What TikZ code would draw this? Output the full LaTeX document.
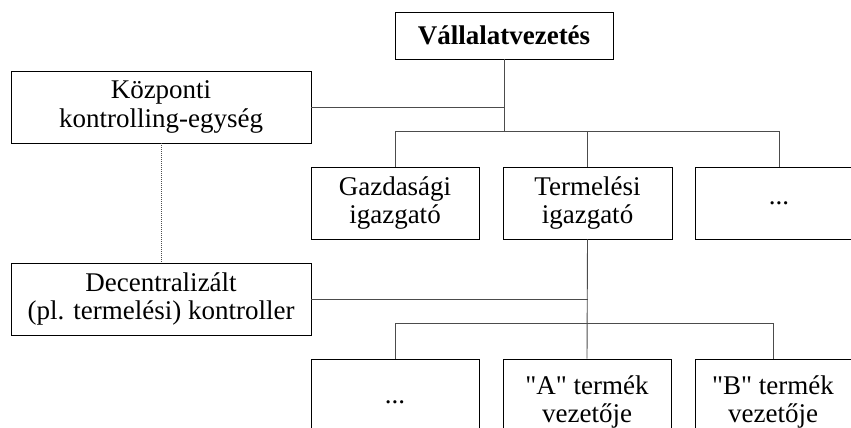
\documentclass[tikz,border=0pt]{standalone}
\usepackage{fontspec}
\setmainfont{Liberation Serif}[Ligatures=TeXOff]
\begin{document}
\begin{tikzpicture}[x=1pt,y=-1pt,
  box/.style={draw=black,line width=0.9pt,fill=white,minimum height=72pt,align=center,inner sep=0pt,font=\fontsize{27}{28.5}\selectfont},
  conn/.style={draw=black!70,line width=0.9pt},
  dotconn/.style={draw=black!70,line width=0.7pt,dash pattern=on 1pt off 1pt}]
\useasboundingbox (0,0) rectangle (851,428);
\clip (0,0) rectangle (851,428);
% nodes
\node[box,minimum width=218pt,minimum height=47pt,font=\fontsize{27}{28.5}\selectfont\bfseries] (top) at (504,35.5) {Vállalatvezetés};
\node[box,minimum width=300pt] (kozp) at (161,107) {Központi\\kontrolling-egység};
\node[box,minimum width=168pt] (gazd) at (395,203) {Gazdasági\\igazgató};
\node[box,minimum width=169pt] (term) at (587.5,203) {Termelési\\igazgató};
\node[box,minimum width=168pt] (dotsA) at (779,203) {...};
\node[box,minimum width=300pt] (dec) at (161,299) {Decentralizált\\(pl. termelési) kontroller};
\node[box,minimum width=168pt,minimum height=86pt] (dotsB) at (395,402) {...};
\node[box,minimum width=168pt,minimum height=86pt] (prodA) at (587,402) {"A" termék\\vezetője};
\node[box,minimum width=156pt,minimum height=86pt] (prodB) at (773,402) {"B" termék\\vezetője};
% buses
\coordinate (busL) at (395,131);
\coordinate (busR) at (779,131);
\coordinate (lbusL) at (395,323);
\coordinate (lbusR) at (773,323);
% upper connectors
\draw[conn] (top.south) -- (top.south |- busL);
\draw[conn] (busL) -- (busR);
\draw[conn] (kozp.east) -- (kozp.east -| top.south);
\draw[conn] (busL) -- (gazd.north);
\draw[conn] (term.north |- busL) -- (term.north);
\draw[conn] (busR) -- (dotsA.north);
% lower connectors
\draw[conn] (term.south) -- (prodA.north);
\draw[conn] (dec.east) -- (dec.east -| term.south);
\draw[conn] (lbusL) -- (lbusR);
\draw[conn] (lbusL) -- (dotsB.north);
\draw[conn] (lbusR) -- (prodB.north);
% dotted link
\draw[dotconn] (kozp.south) -- (dec.north);
\end{tikzpicture}
\end{document}
